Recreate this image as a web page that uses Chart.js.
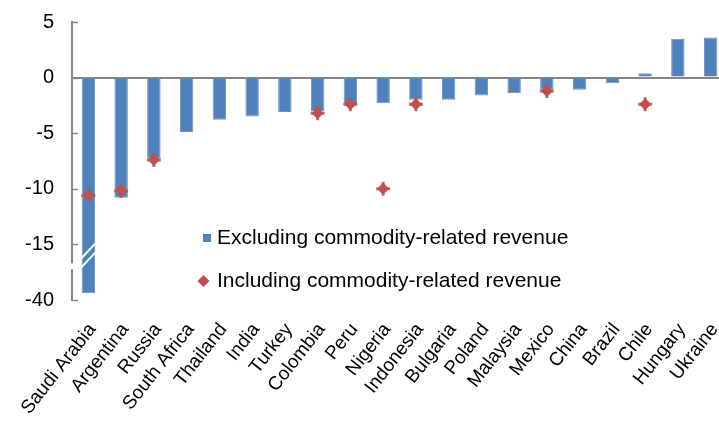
<!DOCTYPE html>
<html>
<head>
<meta charset="utf-8">
<script src="https://cdn.jsdelivr.net/npm/chart.js@4/dist/chart.umd.min.js"></script>
<style>
  html, body { margin: 0; padding: 0; background: #fff; overflow: hidden; }
  #grafico { display: block; }
</style>
</head>
<body>
<canvas id="grafico" width="727" height="421" style="width:727px;height:421px"></canvas>
<script>
// datos del grafico
const paises = ['Saudi Arabia', 'Argentina', 'Russia', 'South Africa', 'Thailand', 'India', 'Turkey',
  'Colombia', 'Peru', 'Nigeria', 'Indonesia', 'Bulgaria', 'Poland', 'Malaysia', 'Mexico', 'China',
  'Brazil', 'Chile', 'Hungary', 'Ukraine'];
const sinMaterias = [-37, -10.8, -7.3, -4.9, -3.8, -3.5, -3.1, -3.0, -2.5, -2.3, -2.0, -2.0, -1.6, -1.4,
  -1.1, -1.1, -0.5, 0.4, 3.5, 3.6];
const conMaterias = [-10.6, -10.2, -7.4, null, null, null, null, -3.2, -2.4, -10.0, -2.4, null, null, null,
  -1.2, null, null, -2.4, null, null];
const ticksY = [5, 0, -5, -10, -15, -40];
const leyenda = ['Excluding commodity-related revenue', 'Including commodity-related revenue'];

const azul = '#4F81BD';
const rojo = '#C0504D';
const gris = '#868686';
const fuente = "'Liberation Sans', Arial, sans-serif";

// eje cortado: de -15 a -40 se comprime en 5 unidades
const corte = -15;
const comprimir = (v) => (v === null ? null : (v < corte ? corte + (v - corte) / 5 : v));
const expandir = (v) => (v < corte ? corte + (v - corte) * 5 : v);
const ticksPos = ticksY.map(comprimir);

const decoraciones = {
  id: 'decoraciones',
  afterDraw(chart) {
    const ctx = chart.ctx;
    const y = chart.scales.y;
    const x = chart.scales.x;
    const ejeX = chart.chartArea.left;
    ctx.save();
    // marcas del eje y hacia dentro
    ctx.strokeStyle = gris;
    ctx.lineWidth = 1.5;
    ticksPos.forEach(function(t) {
      const py = Math.round(y.getPixelForValue(t)) + 0.5;
      ctx.beginPath();
      ctx.moveTo(ejeX, py);
      ctx.lineTo(ejeX + 6, py);
      ctx.stroke();
    });
    // hueco en el eje
    const y15 = y.getPixelForValue(corte);
    ctx.fillStyle = '#fff';
    ctx.fillRect(ejeX - 3, y15 + 19, 6, 6);
    // rayas del corte en la barra de Arabia Saudita
    const bx = x.getPixelForValue(0);
    ctx.strokeStyle = '#fff';
    ctx.lineWidth = 2;
    [14, 23].forEach(function(d) {
      ctx.beginPath();
      ctx.moveTo(bx - 7, y15 + d);
      ctx.lineTo(bx + 7, y15 + d - 15);
      ctx.stroke();
    });
    // leyenda
    ctx.font = '21px ' + fuente;
    ctx.textBaseline = 'middle';
    ctx.fillStyle = azul;
    ctx.fillRect(203, 234, 8, 8);
    ctx.fillStyle = rojo;
    ctx.beginPath();
    ctx.moveTo(203.5, 275);
    ctx.lineTo(209.5, 281);
    ctx.lineTo(203.5, 287);
    ctx.lineTo(197.5, 281);
    ctx.closePath();
    ctx.fill();
    ctx.fillStyle = '#000';
    ctx.fillText(leyenda[0], 217, 238);
    ctx.fillText(leyenda[1], 217, 281);
    ctx.restore();
  }
};

const ctx = document.getElementById('grafico').getContext('2d');
const grafico = new Chart(ctx, {
  type: 'bar',
  data: {
    labels: paises,
    datasets: [{
      type: 'line',
      label: leyenda[1],
      data: conMaterias.map(comprimir),
      showLine: false,
      pointStyle: 'rectRot',
      pointRadius: 6,
      pointBackgroundColor: rojo,
      pointBorderColor: rojo,
      pointBorderWidth: 0,
      order: 0
    }, {
      type: 'line',
      label: leyenda[1] + ' (cruz)',
      data: conMaterias.map(comprimir),
      showLine: false,
      pointStyle: 'cross',
      pointRadius: 7,
      pointBorderColor: 'rgba(192, 80, 77, 0.85)',
      pointBorderWidth: 3,
      order: 0
    }, {
      label: leyenda[0],
      data: sinMaterias.map(comprimir),
      backgroundColor: azul,
      borderColor: '#6A93C6',
      borderWidth: 1,
      borderSkipped: 'start',
      barPercentage: 0.41,
      categoryPercentage: 1,
      order: 1
    }]
  },
  options: {
    responsive: false,
    animation: false,
    layout: { autoPadding: false, padding: { top: 22, left: 0, right: 0, bottom: 0 } },
    plugins: {
      legend: { display: false },
      tooltip: { enabled: false }
    },
    scales: {
      x: {
        grid: { display: false },
        border: { display: false },
        ticks: {
          color: '#000',
          font: { family: fuente, size: 19 },
          minRotation: 52,
          maxRotation: 52,
          autoSkip: false,
          padding: 11,
          labelOffset: 4
        },
        afterFit: function(s) {
          s.height = 121;
          s.paddingLeft = 0;
          s.paddingRight = 0;
        }
      },
      y: {
        min: -20,
        max: 5,
        afterBuildTicks: function(s) {
          s.ticks = ticksPos.map(function(v) { return { value: v }; });
        },
        grid: {
          drawTicks: false,
          color: function(c) { return c.tick && c.tick.value === 0 ? gris : 'rgba(0,0,0,0)'; },
          lineWidth: 2
        },
        border: { display: true, color: gris, width: 2 },
        ticks: {
          color: '#000',
          font: { family: fuente, size: 20 },
          padding: 18,
          callback: function(v) { return String(expandir(v)); }
        },
        afterFit: function(s) {
          s.width = 72;
          s.paddingTop = 0;
          s.paddingBottom = 0;
        }
      }
    }
  },
  plugins: [decoraciones]
});
</script>
</body>
</html>
